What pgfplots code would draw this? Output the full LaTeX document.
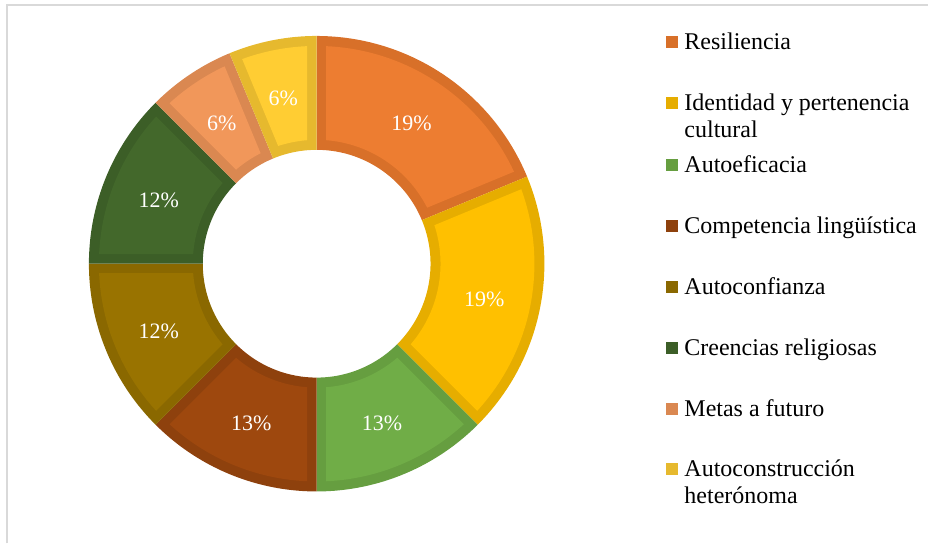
\documentclass[border=0pt]{standalone}
\usepackage{pgfplots}
\pgfplotsset{compat=1.18}
\usepackage{fontspec}
\setmainfont{Liberation Serif}

\definecolor{c1f}{HTML}{ED7D31}\definecolor{c1b}{HTML}{D87029}
\definecolor{c2f}{HTML}{FFC000}\definecolor{c2b}{HTML}{E6AD00}
\definecolor{c3f}{HTML}{70AD47}\definecolor{c3b}{HTML}{669E40}
\definecolor{c4f}{HTML}{9E480E}\definecolor{c4b}{HTML}{8E410D}
\definecolor{c5f}{HTML}{997300}\definecolor{c5b}{HTML}{8A6800}
\definecolor{c6f}{HTML}{43682B}\definecolor{c6b}{HTML}{3C5E27}
\definecolor{c7f}{HTML}{F1975A}\definecolor{c7b}{HTML}{DA8851}
\definecolor{c8f}{HTML}{FFCD33}\definecolor{c8b}{HTML}{E6B92E}

% one donut segment: #1 start (cumulative %), #2 end (cumulative %), #3 fill, #4 border, #5 label
\newcommand{\seg}[5]{%
  \addplot[fill=#4, draw=none, samples at={0,1,...,40,100,101,...,140}, variable=\t]
    ({317 + rr(\t,228,114)*cos(th(\t,90-3.6*#1,90-3.6*#2,90-3.6*#2,90-3.6*#1))},
     {280 + rr(\t,228,114)*sin(th(\t,90-3.6*#1,90-3.6*#2,90-3.6*#2,90-3.6*#1))});
  \addplot[fill=#3, draw=none, samples at={0,1,...,40,100,101,...,140}, variable=\t]
    ({317 + rr(\t,218,124)*cos(th(\t,90-3.6*#1-2.498,90-3.6*#2+2.498,90-3.6*#2+4.394,90-3.6*#1-4.394))},
     {280 + rr(\t,218,124)*sin(th(\t,90-3.6*#1-2.498,90-3.6*#2+2.498,90-3.6*#2+4.394,90-3.6*#1-4.394))});
  \node[text=white, font=\fontsize{22bp}{26bp}\selectfont, inner sep=0pt]
    at (axis cs:{317+171*cos(90-1.8*(#1+#2))},{278+171*sin(90-1.8*(#1+#2))}) {#5\%};
}
\newcommand{\leg}[3]{% #1 y of marker centre (px from top), #2 colour, #3 text
  \fill[#2] (axis cs:667,{544-#1-6}) rectangle (axis cs:679,{544-#1+6});
  \node[anchor=base west, inner sep=0pt, font=\fontsize{24bp}{28bp}\selectfont]
    at (axis cs:685,{544-#1-7.5}) {#3};
}

\begin{document}
\begin{tikzpicture}
\begin{axis}[
  x=1bp, y=1bp, xmin=0, xmax=929, ymin=0, ymax=544,
  hide axis, clip=false,
  declare function={
    th(\t,\a,\b,\c,\d)=ifthenelse(\t<70, \a+(\b-\a)*\t/40, \c+(\d-\c)*(\t-100)/40);
    rr(\t,\R,\r)=ifthenelse(\t<70,\R,\r);
  },
]
\path (axis cs:0,0) rectangle (axis cs:929,544);
\draw[line width=2bp, color=black!15] (axis cs:7.5,0) -- (axis cs:7.5,539) -- (axis cs:929,539);

% cumulative shares: 18.75, 18.75, 12.5, 12.5, 12.5, 12.5, 6.25, 6.25
\seg{0}{18.75}{c1f}{c1b}{19}
\seg{18.75}{37.5}{c2f}{c2b}{19}
\seg{37.5}{50}{c3f}{c3b}{13}
\seg{50}{62.5}{c4f}{c4b}{13}
\seg{62.5}{75}{c5f}{c5b}{12}
\seg{75}{87.5}{c6f}{c6b}{12}
\seg{87.5}{93.75}{c7f}{c7b}{6}
\seg{93.75}{100}{c8f}{c8b}{6}

\leg{42}{c1b}{Resiliencia}
\leg{103}{c2b}{Identidad y pertenencia}
\node[anchor=base west, inner sep=0pt, font=\fontsize{24bp}{28bp}\selectfont] at (axis cs:685,{544-103-7.5-26.7}) {cultural};
\leg{165}{c3b}{Autoeficacia}
\leg{226}{c4b}{Competencia lingüística}
\leg{287}{c5b}{Autoconfianza}
\leg{348}{c6b}{Creencias religiosas}
\leg{409}{c7b}{Metas a futuro}
\leg{470}{c8b}{Autoconstrucción}
\node[anchor=base west, inner sep=0pt, font=\fontsize{24bp}{28bp}\selectfont] at (axis cs:685,{544-470-7.5-26.7}) {heterónoma};
\end{axis}
\end{tikzpicture}
\end{document}
